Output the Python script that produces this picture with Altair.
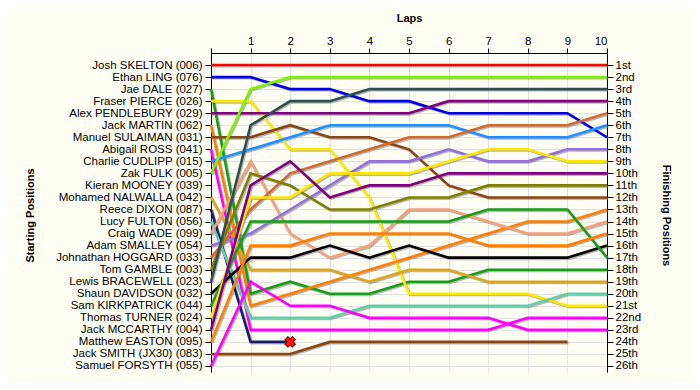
import json
import altair as alt
import pandas as pd

laps = list(range(11))

start_names = [
    "Josh SKELTON (006)", "Ethan LING (076)", "Jae DALE (027)", "Fraser PIERCE (026)",
    "Alex PENDLEBURY (029)", "Jack MARTIN (062)", "Manuel SULAIMAN (031)", "Abigail ROSS (041)",
    "Charlie CUDLIPP (015)", "Zak FULK (005)", "Kieran MOONEY (039)", "Mohamed NALWALLA (042)",
    "Reece DIXON (087)", "Lucy FULTON (056)", "Craig WADE (099)", "Adam SMALLEY (054)",
    "Johnathan HOGGARD (033)", "Tom GAMBLE (003)", "Lewis BRACEWELL (023)", "Shaun DAVIDSON (032)",
    "Sam KIRKPATRICK (044)", "Thomas TURNER (024)", "Jack MCCARTHY (004)", "Matthew EASTON (095)",
    "Jack SMITH  (JX30) (083)", "Samuel FORSYTH (055)",
]

finish_labels = [
    "1st", "2nd", "3rd", "4th", "5th", "6th", "7th", "8th", "9th", "10th", "11th", "12th", "13th",
    "14th", "15th", "16th", "17th", "18th", "19th", "20th", "21st", "22nd", "23rd", "24th", "25th", "26th",
]

# position per lap (lap 0 = grid)
pos_skelton = [1, 1, 1, 1, 1, 1, 1, 1, 1, 1, 1]
pos_ling = [2, 2, 3, 3, 4, 4, 5, 5, 5, 5, 7]
pos_dale = [3, 20, 19, 20, 20, 19, 19, 18, 18, 18, 18]
pos_pierce = [4, 4, 8, 8, 12, 20, 20, 20, 20, 21, 21]
pos_pendlebury = [5, 5, 5, 5, 5, 5, 4, 4, 4, 4, 4]
pos_martin = [6, 21, 20, 19, 18, 17, 16, 15, 14, 14, 13]
pos_sulaiman = [7, 7, 6, 7, 7, 8, 11, 12, 12, 12, 12]
pos_ross = [8, 23, 23, 23, 23, 23, 23, 23, 22, 22, 22]
pos_cudlipp = [9, 8, 7, 6, 6, 6, 6, 7, 7, 7, 6]
pos_fulk = [10, 3, 2, 2, 2, 2, 2, 2, 2, 2, 2]
pos_nalwalla = [12, 18, 18, 18, 19, 18, 18, 19, 19, 19, 19]
pos_dixon = [13, 24, 24]
pos_fulton = [14, 22, 22, 22, 21, 21, 21, 21, 21, 20, 20]
pos_wade = [15, 9, 15, 17, 16, 13, 13, 14, 15, 15, 14]
pos_smalley = [16, 15, 13, 11, 9, 9, 8, 9, 9, 8, 8]
pos_hoggard = [17, 13, 10, 9, 8, 7, 7, 6, 6, 6, 5]
pos_gamble = [18, 10, 11, 13, 13, 12, 12, 11, 11, 11, 11]
pos_bracewell = [19, 6, 4, 4, 3, 3, 3, 3, 3, 3, 3]
pos_davidson = [20, 17, 17, 16, 17, 16, 17, 17, 17, 17, 16]
pos_kirkpatrick = [21, 14, 14, 14, 14, 14, 14, 13, 13, 13, 17]
pos_turner = [22, 12, 12, 10, 10, 10, 9, 8, 8, 9, 9]
pos_mccarthy = [23, 11, 9, 12, 11, 11, 10, 10, 10, 10, 10]
pos_easton = [24, 16, 16, 15, 15, 15, 15, 16, 16, 16, 15]
pos_smith = [25, 25, 25, 24, 24, 24, 24, 24, 24, 24]
pos_forsyth = [26, 19, 21, 21, 22, 22, 22, 22, 23, 23, 23]

series = [
    ("Josh SKELTON (006)", pos_skelton, "#FF0000"),
    ("Ethan LING (076)", pos_ling, "#0000E6"),
    ("Jae DALE (027)", pos_dale, "#169E16"),
    ("Fraser PIERCE (026)", pos_pierce, "#FFE800"),
    ("Alex PENDLEBURY (029)", pos_pendlebury, "#800080"),
    ("Jack MARTIN (062)", pos_martin, "#FF8000"),
    ("Manuel SULAIMAN (031)", pos_sulaiman, "#8B4513"),
    ("Abigail ROSS (041)", pos_ross, "#FF00FF"),
    ("Charlie CUDLIPP (015)", pos_cudlipp, "#1E90FF"),
    ("Zak FULK (005)", pos_fulk, "#80F000"),
    ("Mohamed NALWALLA (042)", pos_nalwalla, "#DAA520"),
    ("Reece DIXON (087)", pos_dixon, "#1C1C6E"),
    ("Lucy FULTON (056)", pos_fulton, "#66CDAA"),
    ("Craig WADE (099)", pos_wade, "#F4A07A"),
    ("Adam SMALLEY (054)", pos_smalley, "#9370DB"),
    ("Johnathan HOGGARD (033)", pos_hoggard, "#D2692E"),
    ("Tom GAMBLE (003)", pos_gamble, "#808000"),
    ("Lewis BRACEWELL (023)", pos_bracewell, "#2F4F4F"),
    ("Shaun DAVIDSON (032)", pos_davidson, "#000000"),
    ("Sam KIRKPATRICK (044)", pos_kirkpatrick, "#169E16"),
    ("Thomas TURNER (024)", pos_turner, "#FFE800"),
    ("Jack MCCARTHY (004)", pos_mccarthy, "#800080"),
    ("Matthew EASTON (095)", pos_easton, "#FF8000"),
    ("Jack SMITH  (JX30) (083)", pos_smith, "#8B4513"),
    ("Samuel FORSYTH (055)", pos_forsyth, "#FF00FF"),
]

retired_driver = ["Reece DIXON (087)"]
retired_lap = [2]
retired_pos = [24]

rows = []
for name, pos, col in series:
    for lap, p in zip(laps, pos):
        rows.append({"driver": name, "lap": lap, "pos": p})
df = pd.DataFrame(rows)
ret_df = pd.DataFrame({"driver": retired_driver, "lap": retired_lap, "pos": retired_pos})

drivers = [s[0] for s in series]
cols = [s[2] for s in series]

FONT = "Liberation Sans"
GRID = "#E2E2E2"

x_scale = alt.Scale(domain=[0, 10], nice=False, zero=False)
y_scale = alt.Scale(domain=[0, 26.5], nice=False, zero=False, reverse=True)

x_axis = alt.Axis(
    orient="top", values=laps, labelExpr="datum.value == 0 ? '' : datum.value",
    title="Laps", grid=True, gridColor=GRID, tickSize=5, tickColor="black",
    domainColor="black", labelColor="black", labelFont=FONT, labelFontSize=11.5,
    labelPadding=2, titleFont=FONT, titleFontSize=11, titleFontWeight="bold",
    titlePadding=12, titleColor="black",
)

left_axis = alt.Axis(
    orient="left", values=list(range(1, 27)),
    labelExpr=json.dumps(start_names) + "[datum.value - 1]",
    title="Starting Positions", grid=True, gridColor=GRID, tickSize=6,
    tickColor="black", domainColor="black", labelColor="black", labelFont=FONT,
    labelFontSize=11.5, labelPadding=3, titleFont=FONT, titleFontSize=11,
    titleFontWeight="bold", titleColor="black", titleX=-181, titleY=162,
    titleAngle=270, titleAlign="center", titleBaseline="middle",
)

right_axis = alt.Axis(
    orient="right", values=list(range(1, 27)),
    labelExpr=json.dumps(finish_labels) + "[datum.value - 1]",
    title="Finishing Positions", grid=False, tickSize=6, tickColor="black",
    domainColor="black", labelColor="black", labelFont=FONT, labelFontSize=11.5,
    labelPadding=2, titleFont=FONT, titleFontSize=11, titleFontWeight="bold",
    titleColor="black", titleX=58, titleY=162, titleAngle=90,
    titleAlign="center", titleBaseline="middle",
)

base = alt.Chart(df)

shadow = base.transform_calculate(
    sx="datum.lap + 0.03", sy="datum.pos + 0.1"
).mark_line(strokeWidth=2.6, color="#7A7A7A", opacity=0.55).encode(
    x=alt.X("sx:Q", scale=x_scale, axis=x_axis),
    y=alt.Y("sy:Q", scale=y_scale, axis=left_axis),
    detail="driver:N",
)

lines = base.mark_line(strokeWidth=2.6).encode(
    x=alt.X("lap:Q", scale=x_scale, axis=x_axis),
    y=alt.Y("pos:Q", scale=y_scale, axis=right_axis),
    color=alt.Color("driver:N", scale=alt.Scale(domain=drivers, range=cols), legend=None),
)

marker = alt.Chart(ret_df).mark_point(
    shape="cross", angle=45, filled=True, size=110, fill="#FF1010",
    stroke="#7A0000", strokeWidth=1, opacity=1,
).encode(
    x=alt.X("lap:Q", scale=x_scale, axis=x_axis),
    y=alt.Y("pos:Q", scale=y_scale, axis=None),
)

chart = alt.layer(shadow, lines, marker).resolve_scale(
    y="shared"
).resolve_axis(y="independent").properties(
    width=396, height=319, background="#FEFEF5",
    padding={"left": 203, "top": 45, "right": 85, "bottom": 10},
    autosize=alt.AutoSizeParams(type="none"),
).configure_view(stroke=None)

chart.save("out.html", embed_options={"renderer": "svg", "actions": False})
